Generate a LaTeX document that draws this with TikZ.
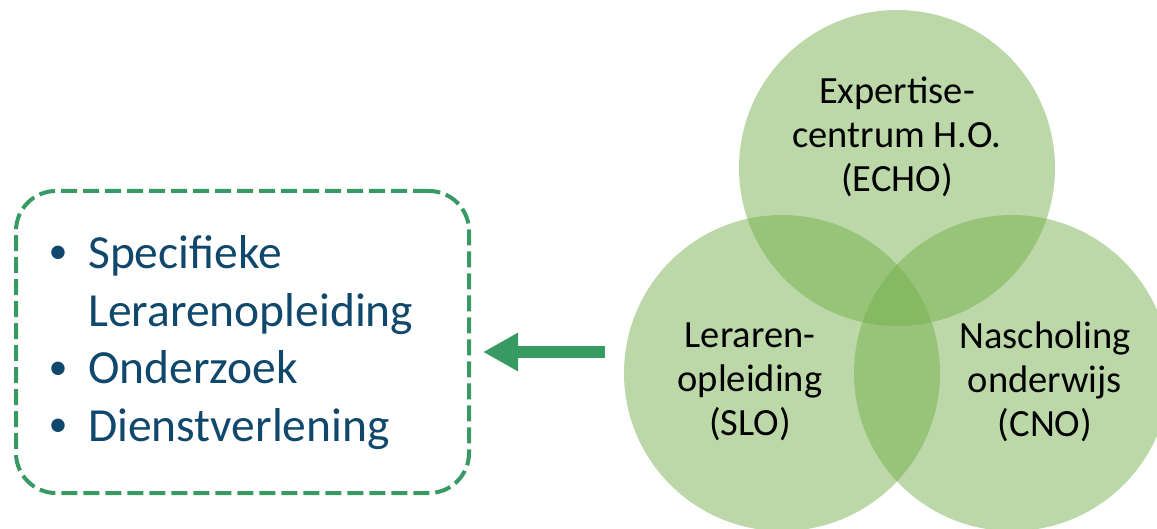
\documentclass[tikz,border=0pt]{standalone}
\usepackage{fontspec}
\setmainfont{Carlito}
\usetikzlibrary{positioning,arrows.meta}
\definecolor{groen}{RGB}{56,154,99}
\definecolor{blad}{RGB}{112,173,71}
\definecolor{inkt}{RGB}{15,72,108}
\tikzset{
  cirkel/.style={circle, minimum size=316pt, inner sep=0pt, fill=blad, fill opacity=0.47},
  naam/.style={align=center, text=black, font=\fontsize{38.5}{44}\selectfont},
  kader/.style={rectangle, rounded corners=40pt, minimum width=453pt, minimum height=302pt, draw=groen, line width=4pt, dash pattern=on 16pt off 6pt},
  punt/.style={anchor=base, inner sep=0pt, text=inkt, font=\fontsize{38}{40}\selectfont},
  regel/.style={anchor=base west, inner sep=0pt, text=inkt, font=\fontsize{47.5}{57.5}\selectfont},
  pijl/.style={draw=groen, line width=12pt, -{Triangle[length=35pt,width=36pt]}}
}
\begin{document}
\begin{tikzpicture}[x=1pt,y=-1pt]
	\useasboundingbox (0,0) rectangle (1157,529);
	\node[cirkel] (echo) at (897,168) {};
	\node[cirkel] (slo) at (782,373) {};
	\node[cirkel] (cno) at (1012,373) {};
	\node[naam] (echotekst) at (897,137) {Expertise-\\centrum H.O.\\(ECHO)};
	\node[naam] (slotekst) at (750,382) {Leraren-\\opleiding\\(SLO)};
	\node[naam] (cnotekst) at (1045,382) {Nascholing\\onderwijs\\(CNO)};
	%
	\node[kader] (lijst) at (242.5,342) {};
	\node[punt] (p1) at (58,264) {•};
	\node[regel] (r1) at (88,269) {Specifieke};
	\node[regel] (r2) at (88,326.5) {Lerarenopleiding};
	\node[punt] (p3) at (58,379) {•};
	\node[regel] (r3) at (88,384) {Onderzoek};
	\node[punt] (p4) at (58,436.5) {•};
	\node[regel] (r4) at (88,441.5) {Dienstverlening};
	%
	\coordinate (bron) at (605,352);
	\draw[pijl, shorten >=12pt] (bron) -- (lijst.east |- bron);
\end{tikzpicture}
\end{document}
